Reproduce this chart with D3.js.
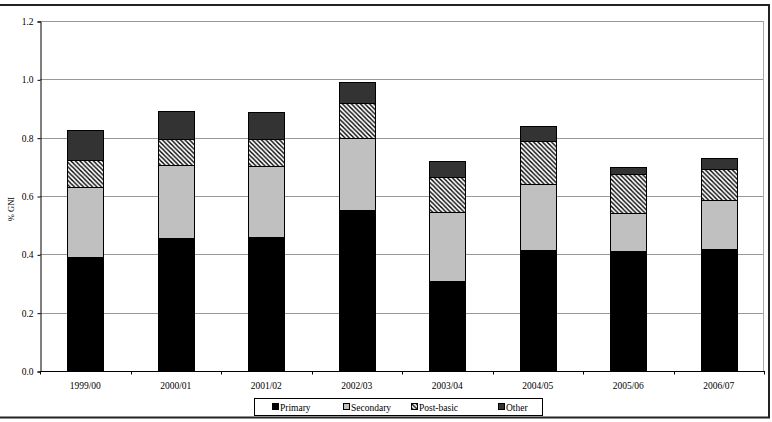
<html>
<head>
<meta charset="utf-8">
<title>% GNI by level</title>
<script src="https://cdn.jsdelivr.net/npm/d3@7"></script>
<style>
body, html{
	margin: 0;
	padding: 0;
	background: #fff;
	overflow: hidden;
}
svg text{
	font-family: "Liberation Serif", "Times New Roman", serif;
	font-size: 9.5px;
	fill: #000;
}
</style>
</head>
<body>
<svg id="chart" width="772" height="422"></svg>
<script>
var categories = ['1999/00', '2000/01', '2001/02', '2002/03', '2003/04', '2004/05', '2005/06', '2006/07'];
var primary   = [0.390, 0.457, 0.460, 0.552, 0.309, 0.415, 0.411, 0.420];
var secondary = [0.240, 0.249, 0.243, 0.246, 0.236, 0.225, 0.132, 0.165];
var postBasic = [0.092, 0.088, 0.094, 0.121, 0.121, 0.150, 0.131, 0.109];
var other     = [0.104, 0.098, 0.091, 0.072, 0.054, 0.050, 0.024, 0.037];
var seriesNames = ['Primary', 'Secondary', 'Post-basic', 'Other'];
var yTicks = [0, 0.2, 0.4, 0.6, 0.8, 1.0, 1.2];

var svg = d3.select('#chart'),
	plotLeft = 40, plotRight = 764, plotTop = 21, plotBottom = 371;

// hatch for post-basic
var defs = svg.append('defs');
var pat = defs.append('pattern')
	.attr('id', 'hatch')
	.attr('patternUnits', 'userSpaceOnUse')
	.attr('width', 4.5).attr('height', 4.5);
pat.append('rect').attr('width', 4.5).attr('height', 4.5).attr('fill', '#fff');
pat.append('path')
	.attr('d', 'M-1,-1 L5.5,5.5 M3.5,-1 L5.5,1 M-1,3.5 L1,5.5')
	.attr('stroke', '#000')
	.attr('stroke-width', 1.4);

var fills = {'Primary': '#000', 'Secondary': '#c0c0c0', 'Post-basic': 'url(#hatch)', 'Other': '#333'};

// outer frame
svg.append('rect')
	.attr('x', -2).attr('y', 5)
	.attr('width', 771).attr('height', 412.5)
	.attr('fill', 'none')
	.attr('stroke', '#222')
	.attr('stroke-width', 2);

var x = d3.scaleBand().domain(categories).range([plotLeft, plotRight]).paddingInner(0.6).paddingOuter(0.3);
var xCat = d3.scaleBand().domain(categories).range([plotLeft, plotRight]);
var y = d3.scaleLinear().domain([0, 1.2]).range([plotBottom, plotTop]);

// gridlines
svg.append('g').selectAll('line')
	.data(yTicks.slice(1))
	.join('line')
	.attr('x1', plotLeft).attr('x2', plotRight)
	.attr('y1', function(d){ return Math.round(y(d)) + 0.5; })
	.attr('y2', function(d){ return Math.round(y(d)) + 0.5; })
	.attr('stroke', '#999')
	.attr('stroke-width', 1);

svg.append('line')
	.attr('x1', plotRight - 0.5).attr('x2', plotRight - 0.5)
	.attr('y1', plotTop).attr('y2', plotBottom)
	.attr('stroke', '#aaa');

// stacked bars
var rows = categories.map(function(c, i){
	return {cat: c, 'Primary': primary[i], 'Secondary': secondary[i], 'Post-basic': postBasic[i], 'Other': other[i]};
});
var stack = d3.stack().keys(seriesNames)(rows);

svg.append('g').selectAll('g')
	.data(stack)
	.join('g')
	.attr('fill', function(s){ return fills[s.key]; })
	.selectAll('rect')
	.data(function(s){ return s; })
	.join('rect')
	.attr('x', function(d){ return Math.round(x(d.data.cat)) + 0.5; })
	.attr('y', function(d){ return Math.round(y(d[1])) + 0.5; })
	.attr('width', Math.round(x.bandwidth()))
	.attr('height', function(d){ return Math.round(y(d[0])) - Math.round(y(d[1])); })
	.attr('stroke', '#000')
	.attr('stroke-width', 1);

// y axis
var yAxis = svg.append('g')
	.attr('transform', 'translate(' + (plotLeft + 0.5) + ',0.5)')
	.call(d3.axisLeft(y).tickValues(yTicks).tickFormat(d3.format('.1f')).tickSize(3).tickPadding(4));
yAxis.select('.domain').attr('stroke', '#000');
yAxis.selectAll('text').style('font-size', '9.5px').attr('font-family', null);

// x axis with ticks between categories
var xAxisG = svg.append('g').attr('transform', 'translate(0,' + (plotBottom + 0.5) + ')');
xAxisG.append('line').attr('x1', plotLeft).attr('x2', plotRight + 1).attr('stroke', '#000');
xAxisG.selectAll('line.tk')
	.data(categories.concat(['end']))
	.join('line')
	.attr('class', 'tk')
	.attr('x1', function(d, i){ return Math.round(plotLeft + i * xCat.bandwidth()) + 0.5; })
	.attr('x2', function(d, i){ return Math.round(plotLeft + i * xCat.bandwidth()) + 0.5; })
	.attr('y1', 0).attr('y2', 3)
	.attr('stroke', '#000');
xAxisG.selectAll('text')
	.data(categories)
	.join('text')
	.attr('x', function(d){ return xCat(d) + xCat.bandwidth() / 2; })
	.attr('y', 17)
	.attr('text-anchor', 'middle')
	.text(function(d){ return d; });

// y label
svg.append('text')
	.attr('transform', 'translate(14,209) rotate(-90)')
	.attr('text-anchor', 'middle')
	.style('font-size', '8.5px')
	.text('% GNI');

// legend
var legend = svg.append('g');
legend.append('rect')
	.attr('x', 254.5).attr('y', 398.5)
	.attr('width', 288).attr('height', 17)
	.attr('fill', '#fff')
	.attr('stroke', '#000');
var legX = [272, 343, 411, 498];
var items = legend.selectAll('g.item')
	.data(seriesNames)
	.join('g')
	.attr('class', 'item')
	.attr('transform', function(d, i){ return 'translate(' + legX[i] + ',403)'; });
items.append('rect')
	.attr('x', 0.5).attr('y', 0.5)
	.attr('width', 6).attr('height', 6)
	.attr('fill', function(d){ return fills[d]; })
	.attr('stroke', '#000');
items.append('text')
	.attr('x', 8).attr('y', 7.5)
	.text(function(d){ return d; });
</script>
</body>
</html>
